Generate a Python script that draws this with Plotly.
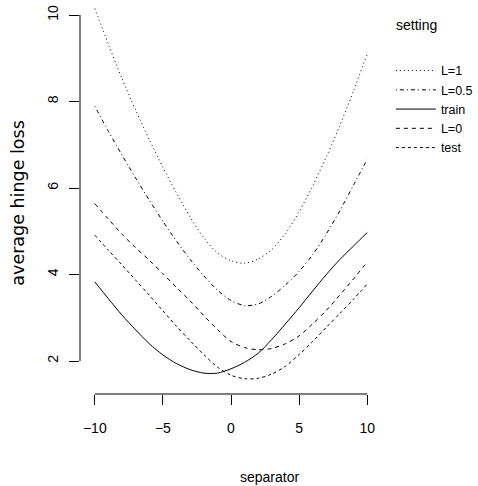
import plotly.graph_objects as go

# ---- data ----
separator = list(range(-10, 11))

loss_L1 = [10.15, 9.32, 8.53, 7.80, 7.12, 6.48, 5.88, 5.33, 4.85, 4.50, 4.32,
           4.26, 4.36, 4.58, 4.95, 5.45, 6.05, 6.72, 7.45, 8.25, 9.10]
loss_L05 = [7.89, 7.31, 6.76, 6.23, 5.72, 5.23, 4.77, 4.35, 3.97, 3.64, 3.40,
            3.28, 3.32, 3.50, 3.76, 4.07, 4.46, 4.94, 5.48, 6.07, 6.66]
loss_train = [3.83, 3.44, 3.06, 2.72, 2.40, 2.14, 1.94, 1.80, 1.72, 1.72, 1.82,
              1.97, 2.18, 2.50, 2.86, 3.23, 3.62, 4.00, 4.35, 4.66, 4.97]
loss_L0 = [5.64, 5.28, 4.93, 4.62, 4.33, 4.02, 3.70, 3.39, 3.05, 2.73, 2.45,
           2.31, 2.26, 2.29, 2.40, 2.58, 2.86, 3.17, 3.53, 3.90, 4.29]
loss_test = [4.91, 4.56, 4.22, 3.87, 3.52, 3.16, 2.80, 2.47, 2.15, 1.86, 1.67,
             1.59, 1.60, 1.70, 1.88, 2.15, 2.45, 2.78, 3.10, 3.43, 3.78]

series_names = ["L=1", "L=0.5", "train", "L=0", "test"]
series_values = [loss_L1, loss_L05, loss_train, loss_L0, loss_test]
series_dash = ["1px,3px", "1px,3px,4px,3px", "solid", "4px,4px", "3px,3px"]

x_tick_vals = [-10, -5, 0, 5, 10]
x_tick_text = ["\u221210", "\u22125", "0", "5", "10"]
y_tick_vals = [2, 4, 6, 8, 10]
y_tick_text = ["2", "4", "6", "8", "10"]

FONT = "Liberation Sans, Arial, Helvetica, sans-serif"

fig = go.Figure()
for name, vals, dash in zip(series_names, series_values, series_dash):
    fig.add_trace(go.Scatter(
        x=separator, y=vals, name=name, mode="lines",
        line=dict(color="black", width=1, dash=dash, shape="spline", smoothing=0.8),
    ))

fig.update_layout(
    width=478, height=486,
    margin=dict(l=80, r=92, t=0, b=92),
    paper_bgcolor="white", plot_bgcolor="white",
    font=dict(family=FONT, size=14, color="black"),
    showlegend=True,
    legend=dict(
        x=1.0294, xanchor="left", y=0.858, yanchor="top",
        font=dict(family=FONT, size=12.5, color="black"),
        itemwidth=40, bgcolor="rgba(0,0,0,0)", borderwidth=0,
        traceorder="normal",
    ),
    xaxis=dict(
        range=[-11.087, 11.087], showgrid=False, zeroline=False, showline=False,
        tickmode="array", tickvals=x_tick_vals, ticktext=x_tick_text,
        ticks="outside", ticklen=10, tickwidth=1, tickcolor="black",
        tickfont=dict(family=FONT, size=14, color="black"),
        ticklabelstandoff=11,
    ),
    yaxis=dict(
        range=[1.237, 10.347], showgrid=False, zeroline=False, showline=False,
        tickmode="array", tickvals=y_tick_vals, ticktext=y_tick_text,
        ticks="outside", ticklen=10, tickwidth=1, tickcolor="black",
        tickangle=-90,
        tickfont=dict(family=FONT, size=14, color="black"),
        ticklabelstandoff=5,
    ),
    shapes=[
        dict(type="line", xref="x", yref="paper", x0=min(x_tick_vals), x1=max(x_tick_vals),
             y0=0, y1=0, line=dict(color="black", width=1)),
        dict(type="line", xref="paper", yref="y", x0=0, x1=0,
             y0=min(y_tick_vals), y1=max(y_tick_vals), line=dict(color="black", width=1)),
    ],
    annotations=[
        dict(text="separator", xref="paper", yref="paper", x=0.627, y=-0.2107,
             xanchor="center", yanchor="middle", showarrow=False,
             font=dict(family=FONT, size=14, color="black")),
        dict(text="average hinge loss", xref="paper", yref="paper", x=-0.206, y=0.485,
             xanchor="center", yanchor="middle", showarrow=False, textangle=-90,
             font=dict(family="DejaVu Sans, sans-serif", size=17.5, color="black")),
        dict(text="setting", xref="paper", yref="paper", x=1.039, y=0.9365,
             xanchor="left", yanchor="middle", showarrow=False,
             font=dict(family=FONT, size=14, color="black")),
    ],
)

fig.write_html("out.html", config={"displayModeBar": False},
               post_script="document.body.style.margin='0';")
